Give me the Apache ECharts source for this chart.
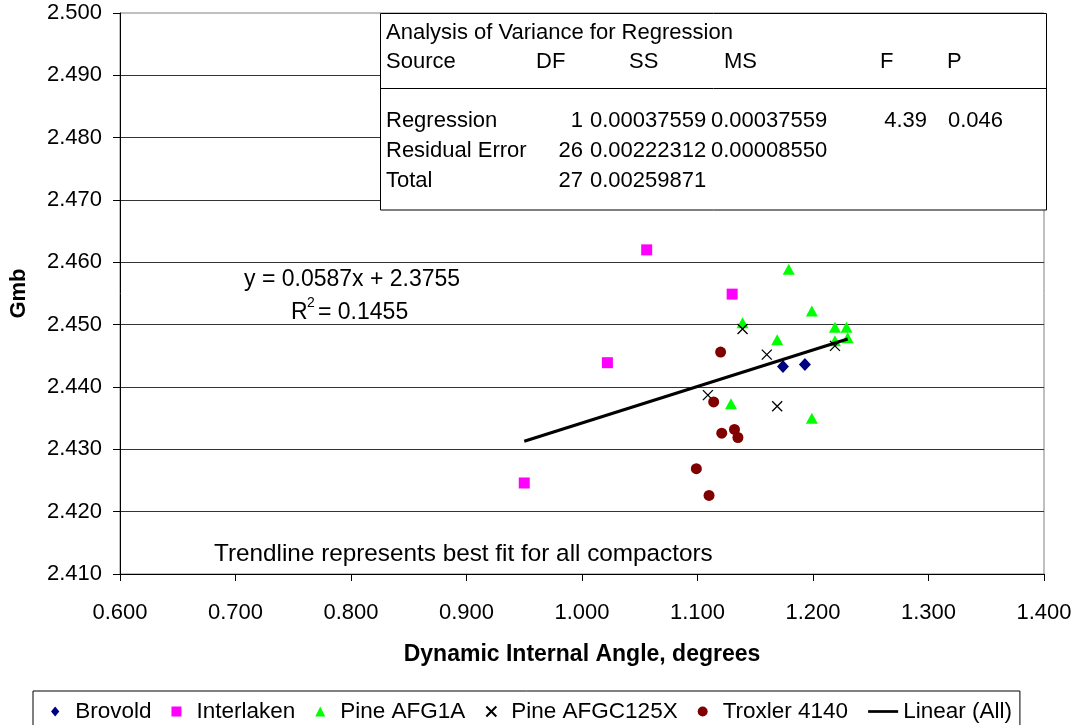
<!DOCTYPE html>
<html>
<head>
<meta charset="utf-8">
<script src="https://cdn.jsdelivr.net/npm/echarts@6/dist/echarts.min.js"></script>
<style>
html,body{margin:0;padding:0;background:#fff;}
#chart{width:1078px;height:725px;}
</style>
</head>
<body>
<div id="chart"></div>
<script>
// ---- data ----
const brovoldX = [1.174, 1.193];
const brovoldY = [2.4433, 2.4436];
const interlakenX = [1.056, 1.130, 1.022, 0.950];
const interlakenY = [2.4620, 2.4549, 2.4439, 2.4246];
const pineG1AX = [1.179, 1.199, 1.139, 1.219, 1.229, 1.230, 1.219, 1.169, 1.129, 1.199];
const pineG1AY = [2.4589, 2.4522, 2.4503, 2.4496, 2.4496, 2.4479, 2.4474, 2.4476, 2.4373, 2.4350];
const pineC125X = [1.139, 1.160, 1.219, 1.109, 1.169];
const pineC125Y = [2.4493, 2.4452, 2.4466, 2.4387, 2.4369];
const troxlerX = [1.120, 1.114, 1.121, 1.132, 1.135, 1.099, 1.110];
const troxlerY = [2.4456, 2.4376, 2.4326, 2.4332, 2.4319, 2.4269, 2.4226];
const trendX = [0.950, 1.230];
const trendY = [2.4313, 2.4477];

const seriesNames = ['Brovold', 'Interlaken', 'Pine AFG1A', 'Pine AFGC125X', 'Troxler 4140', 'Linear (All)'];
const xTicks = {min: 0.6, max: 1.4, interval: 0.1};
const yTicks = {min: 2.41, max: 2.5, interval: 0.01};

const anovaTitle = 'Analysis of Variance for Regression';
const anovaHeader = ['Source', 'DF', 'SS', 'MS', 'F', 'P'];
const anovaRows = [
  ['Regression', '1', '0.00037559', '0.00037559', '4.39', '0.046'],
  ['Residual Error', '26', '0.00222312', '0.00008550', '', ''],
  ['Total', '27', '0.00259871', '', '', '']
];
const eqText = 'y = 0.0587x + 2.3755';
const r2Value = '0.1455';
const noteText = 'Trendline represents best fit for all compactors';

function zip(xs, ys) { return xs.map((x, i) => [x, ys[i]]); }

const FONT = '"Liberation Sans", Arial, sans-serif';
const F22 = '22px ' + FONT;

function txt(text, x, y, opts) {
  opts = opts || {};
  return {
    type: 'text', z: 110,
    style: Object.assign({
      text: text, x: x, y: y, fill: '#000', font: F22,
      textAlign: opts.align || 'left', align: opts.align || 'left',
      textVerticalAlign: 'middle', verticalAlign: 'middle'
    }, opts.style || {})
  };
}

// ANOVA box layout
const rowY = [121, 151, 181];
const colX = {src: 386, df: 583, ss: 590, ms: 711, f: 927, p: 948};
const anovaEls = [
  {type: 'rect', z: 100, shape: {x: 380.5, y: 13.5, width: 666, height: 196.5},
   style: {fill: '#fff', stroke: '#000', lineWidth: 1}},
  {type: 'line', z: 101, shape: {x1: 380.5, y1: 88.5, x2: 1046.5, y2: 88.5},
   style: {stroke: '#000', lineWidth: 1}},
  txt(anovaTitle, 386, 33),
  txt(anovaHeader[0], 386, 62),
  txt(anovaHeader[1], 536, 62),
  txt(anovaHeader[2], 629, 62),
  txt(anovaHeader[3], 724, 62),
  txt(anovaHeader[4], 880, 62),
  txt(anovaHeader[5], 947, 62)
];
anovaRows.forEach((r, i) => {
  const y = rowY[i];
  anovaEls.push(txt(r[0], colX.src, y));
  anovaEls.push(txt(r[1], colX.df, y, {align: 'right'}));
  if (r[2]) anovaEls.push(txt(r[2], colX.ss, y));
  if (r[3]) anovaEls.push(txt(r[3], colX.ms, y));
  if (r[4]) anovaEls.push(txt(r[4], colX.f, y, {align: 'right'}));
  if (r[5]) anovaEls.push(txt(r[5], colX.p, y));
});

const F23 = '23px ' + FONT;
const otherEls = [
  txt(eqText, 244, 280, {style: {font: F23}}),
  txt('R', 291, 313, {style: {font: F23}}),
  txt('2', 307, 303, {style: {font: '14px ' + FONT}}),
  txt('= ' + r2Value, 318, 313, {style: {font: F23}}),
  txt(noteText, 214, 554, {style: {font: '24.3px ' + FONT}})
];

const chart = echarts.init(document.getElementById('chart'), null, {renderer: 'canvas'});
const xPath = 'path://M0,0L10,10M10,0L0,10';
const diamondPath = 'path://M5,0L10,6L5,12L0,6Z';
const squarePath = 'path://M0,0H10V10H0Z';
const trianglePath = 'path://M5,0L10,10L0,10Z';
const linePath = 'path://M0,0H33V3H0Z';

chart.setOption({
  animation: false,
  backgroundColor: '#fff',
  textStyle: {fontFamily: FONT},
  grid: {left: 120, right: 34, top: 13, bottom: 151, show: true, borderColor: '#808080', borderWidth: 1, backgroundColor: 'transparent'},
  xAxis: {
    type: 'value', min: xTicks.min, max: xTicks.max, interval: xTicks.interval,
    name: 'Dynamic Internal Angle, degrees', nameLocation: 'middle', nameGap: 69,
    nameTextStyle: {fontSize: 23, fontWeight: 'bold', color: '#000', fontFamily: FONT},
    axisLine: {show: true, lineStyle: {color: '#000', width: 1}},
    axisTick: {show: true, length: 7, lineStyle: {color: '#000'}},
    axisLabel: {fontSize: 22, color: '#000', margin: 28, fontFamily: FONT, formatter: v => v.toFixed(3)},
    splitLine: {show: false}
  },
  yAxis: {
    type: 'value', min: yTicks.min, max: yTicks.max, interval: yTicks.interval,
    name: 'Gmb', nameLocation: 'middle', nameGap: 90, nameRotate: 90,
    nameTextStyle: {fontSize: 22, fontWeight: 'bold', color: '#000', fontFamily: FONT},
    axisLine: {show: true, lineStyle: {color: '#000', width: 1}},
    axisTick: {show: true, length: 7, lineStyle: {color: '#000'}},
    axisLabel: {fontSize: 22, color: '#000', margin: 18, fontFamily: FONT, formatter: v => v.toFixed(3)},
    splitLine: {show: true, showMinLine: false, showMaxLine: false, lineStyle: {color: '#333', width: 1}}
  },
  legend: {
    left: 33, top: 691, orient: 'horizontal',
    padding: [9, 8, 5, 18], itemGap: 20, itemWidth: 30, itemHeight: 10,
    borderColor: '#000', borderWidth: 1, backgroundColor: '#fff',
    textStyle: {fontSize: 22.5, color: '#000', fontFamily: FONT},
    data: [
      {name: seriesNames[0], icon: diamondPath},
      {name: seriesNames[1], icon: squarePath},
      {name: seriesNames[2], icon: trianglePath},
      {name: seriesNames[3], icon: xPath},
      {name: seriesNames[4], icon: 'circle'},
      {name: seriesNames[5], icon: linePath}
    ]
  },
  graphic: anovaEls.concat(otherEls),
  series: [
    {name: seriesNames[0], type: 'scatter', symbol: 'diamond', symbolSize: [12, 13], data: zip(brovoldX, brovoldY), itemStyle: {color: '#000080', opacity: 1}},
    {name: seriesNames[1], type: 'scatter', symbol: 'rect', symbolSize: 11, data: zip(interlakenX, interlakenY), itemStyle: {color: '#FF00FF', opacity: 1}},
    {name: seriesNames[2], type: 'scatter', symbol: 'triangle', symbolSize: [12, 11], data: zip(pineG1AX, pineG1AY), itemStyle: {color: '#00FF00', opacity: 1}},
    {name: seriesNames[3], type: 'scatter', symbol: xPath, symbolSize: 10, data: zip(pineC125X, pineC125Y), itemStyle: {color: 'rgba(0,0,0,0)', borderColor: '#000', borderWidth: 1.3, opacity: 1}},
    {name: seriesNames[4], type: 'scatter', symbol: 'circle', symbolSize: 11, data: zip(troxlerX, troxlerY), itemStyle: {color: '#800000', opacity: 1}},
    {name: seriesNames[5], type: 'line', symbol: 'none', showSymbol: false, data: zip(trendX, trendY), lineStyle: {color: '#000', width: 3}, itemStyle: {color: '#000'}}
  ]
});
</script>
</body>
</html>
